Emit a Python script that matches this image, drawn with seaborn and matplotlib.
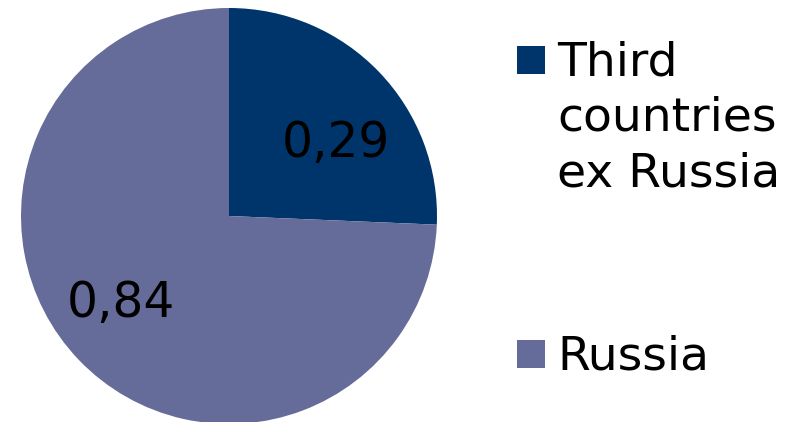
import matplotlib
matplotlib.use("Agg")
import matplotlib.pyplot as plt
import seaborn as sns
from matplotlib.patches import Rectangle

categories = ["Third\ncountries\nex Russia", "Russia"]
values = [0.29, 0.84]
value_labels = ["0,29", "0,84"]
colors = ["#00356B", "#666C99"]

sns.set_theme(style="white")
plt.rcParams["font.family"] = ["DejaVu Sans"]

W, H = 800, 422
fig = plt.figure(figsize=(W / 100, H / 100), dpi=100)

# pie centre (229, 216) px, radius 208 px
cx, cy, r = 229, 216, 208
ax = fig.add_axes([(cx - r) / W, (H - cy - r) / H, 2 * r / W, 2 * r / H])
wedges, _ = ax.pie(values, colors=colors, startangle=90, counterclock=False,
                   radius=1, wedgeprops=dict(linewidth=0))
ax.set_xlim(-1, 1)
ax.set_ylim(-1, 1)
ax.axis("off")

# value labels
label_pos = [(0.514, 0.35), (-0.52, -0.42)]
for (x, y), txt in zip(label_pos, value_labels):
    ax.text(x, y, txt, ha="center", va="center", fontsize=35, color="black")

# legend
legend_items = [(46, 40), (340, 335)]
for (sq_top, txt_top), lab, col in zip(legend_items, categories, colors):
    fig.add_artist(Rectangle((517 / W, (H - sq_top - 28) / H), 28 / W, 28 / H,
                             transform=fig.transFigure, color=col, linewidth=0))
    fig.text(557 / W, (H - txt_top) / H, lab, ha="left", va="top",
             fontsize=34, color="black", linespacing=1.31)

fig.savefig("out.png", dpi=100)
